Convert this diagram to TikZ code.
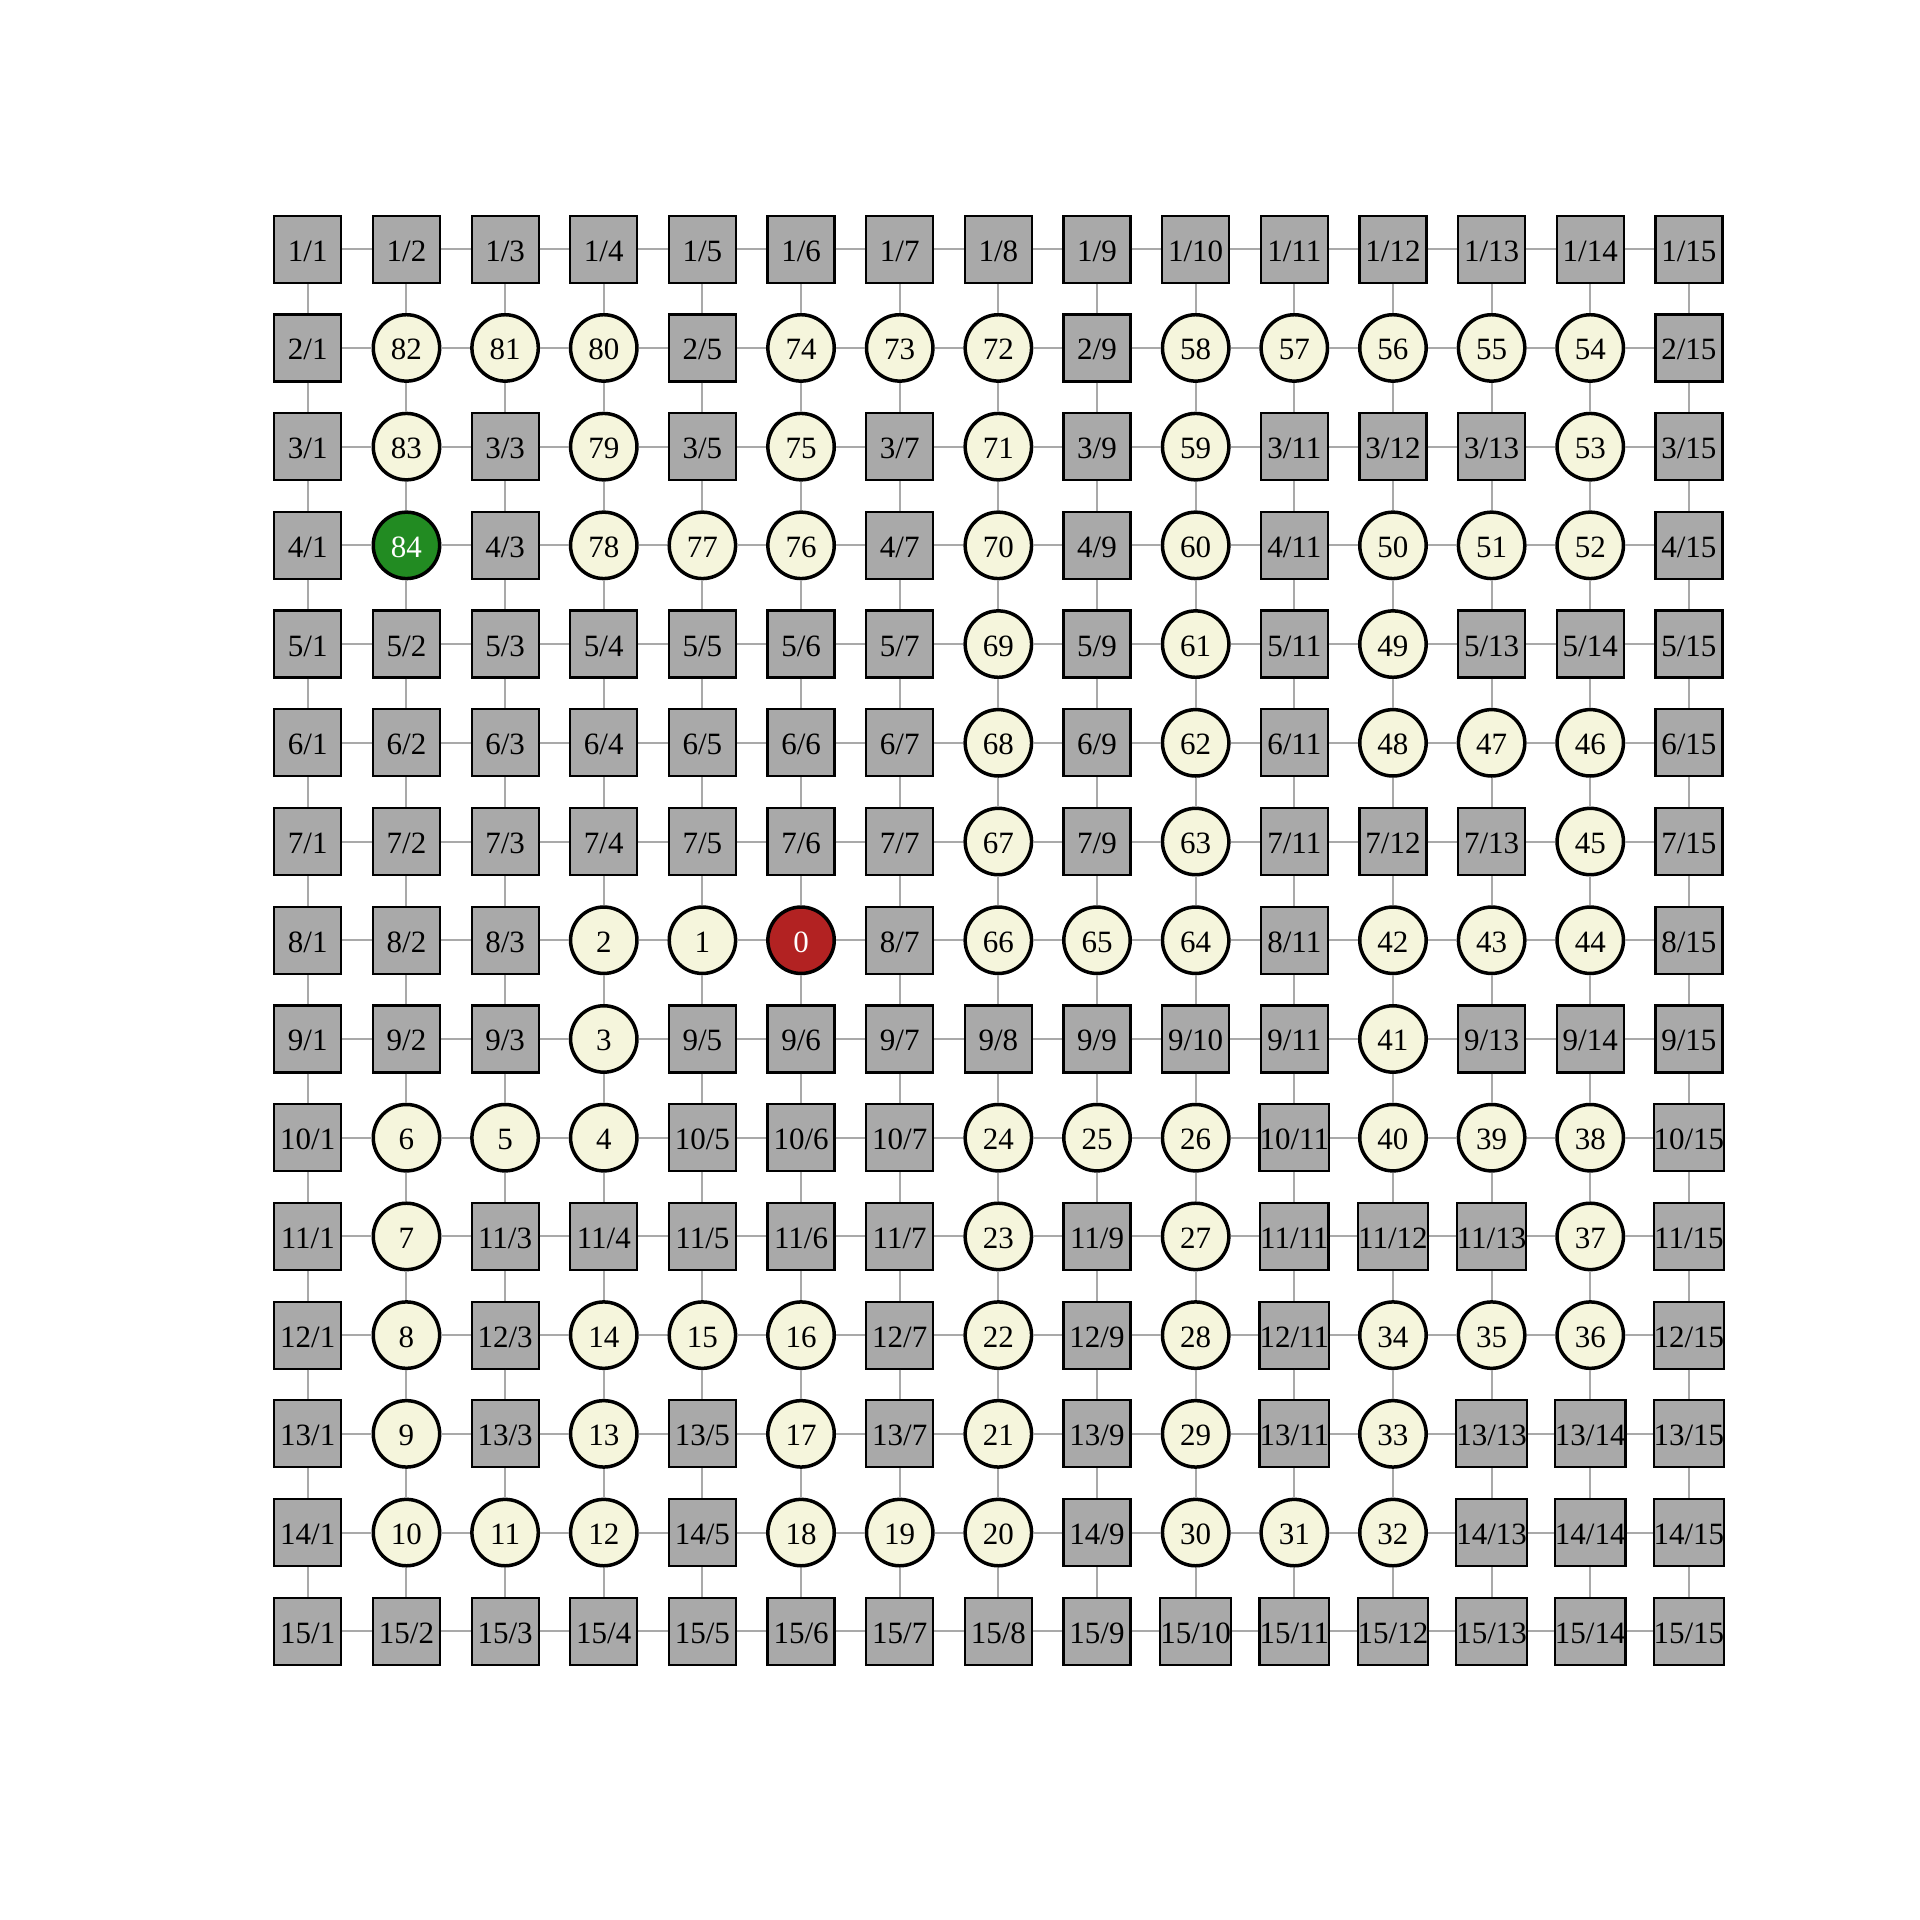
\documentclass[tikz,border=0pt]{standalone}
\usepackage{fontspec}
\setmainfont{Liberation Serif}
\definecolor{sqfill}{HTML}{A9A9A9}
\definecolor{edgec}{HTML}{A9A9A9}
\definecolor{beige}{HTML}{F5F5DC}
\definecolor{firebrick}{HTML}{B22222}
\definecolor{forest}{HTML}{228B22}
\tikzset{
  basenode/.style={inner sep=0pt, font=\fontsize{15.5pt}{17pt}\selectfont, text height=12pt, text depth=0pt},
  sqnode/.style={basenode, rectangle, draw=black, line width=1.1pt, fill=sqfill, minimum size=33.5pt},
  cnode/.style={basenode, circle, draw=black, line width=1.75pt, fill=beige, minimum size=33.2pt},
  startnode/.style={cnode, fill=firebrick, text=white},
  goalnode/.style={cnode, fill=forest, text=white},
  gridedge/.style={draw=edgec, line width=1pt}
}
\begin{document}
\begin{tikzpicture}[x=0.5pt,y=-0.5pt]
\useasboundingbox (0,0) rectangle (1920,1920);
\def\sq{s}
\foreach [count=\r] \rowlist in {
 {s,s,s,s,s,s,s,s,s,s,s,s,s,s,s},
 {s,82,81,80,s,74,73,72,s,58,57,56,55,54,s},
 {s,83,s,79,s,75,s,71,s,59,s,s,s,53,s},
 {s,84,s,78,77,76,s,70,s,60,s,50,51,52,s},
 {s,s,s,s,s,s,s,69,s,61,s,49,s,s,s},
 {s,s,s,s,s,s,s,68,s,62,s,48,47,46,s},
 {s,s,s,s,s,s,s,67,s,63,s,s,s,45,s},
 {s,s,s,2,1,0,s,66,65,64,s,42,43,44,s},
 {s,s,s,3,s,s,s,s,s,s,s,41,s,s,s},
 {s,6,5,4,s,s,s,24,25,26,s,40,39,38,s},
 {s,7,s,s,s,s,s,23,s,27,s,s,s,37,s},
 {s,8,s,14,15,16,s,22,s,28,s,34,35,36,s},
 {s,9,s,13,s,17,s,21,s,29,s,33,s,s,s},
 {s,10,11,12,s,18,19,20,s,30,31,32,s,s,s},
 {s,s,s,s,s,s,s,s,s,s,s,s,s,s,s}}{
  \foreach [count=\c] \v in \rowlist {
    \edef\vv{\v}
    \ifx\vv\sq
      \node[sqnode] (n-\r-\c) at ({209.15+\c*98.65},{150.48+\r*98.72}) {\r/\c};
    \else
      \ifnum\v=0
        \node[startnode] (n-\r-\c) at ({209.15+\c*98.65},{150.48+\r*98.72}) {\v};
      \else
        \ifnum\v=84
          \node[goalnode] (n-\r-\c) at ({209.15+\c*98.65},{150.48+\r*98.72}) {\v};
        \else
          \node[cnode] (n-\r-\c) at ({209.15+\c*98.65},{150.48+\r*98.72}) {\v};
        \fi
      \fi
    \fi
  }
}
\foreach \r in {1,...,15}{
  \foreach \c in {1,...,14}{
    \pgfmathtruncatemacro{\cn}{\c+1}
    \draw[gridedge] (n-\r-\c) -- (n-\r-\cn);
    \draw[gridedge] (n-\c-\r) -- (n-\cn-\r);
  }
}
\end{tikzpicture}
\end{document}
